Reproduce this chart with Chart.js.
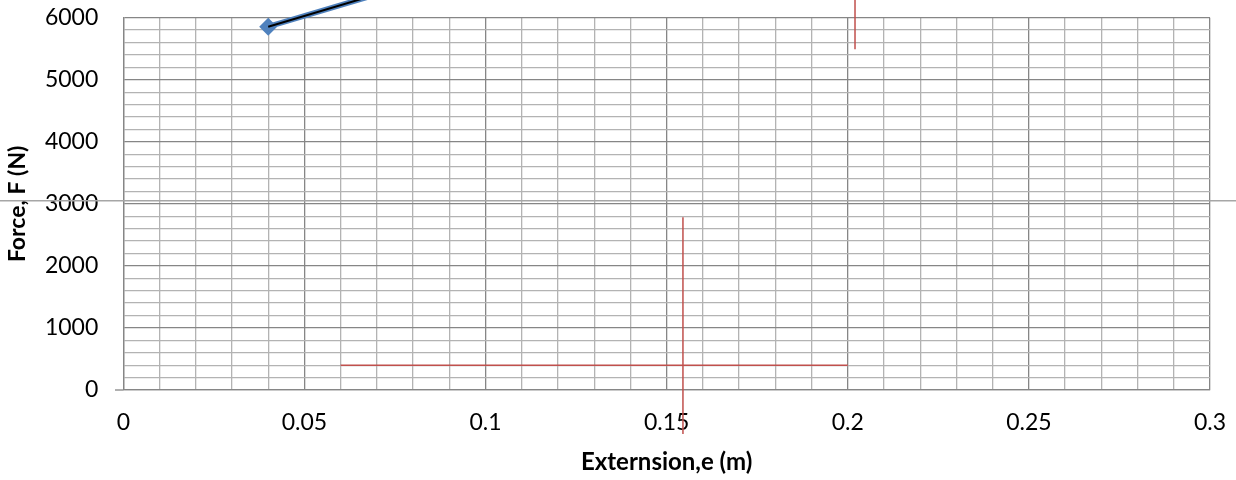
<!DOCTYPE html>
<html>
<head>
<meta charset="utf-8">
<script src="https://cdn.jsdelivr.net/npm/chart.js@4.4.1/dist/chart.umd.min.js"></script>
<style>
    html, body { margin: 0; padding: 0; background: #fff; }
    #wrap { width: 1236px; height: 480px; position: relative; }
</style>
</head>
<body>
<div id="wrap"><canvas id="chart"></canvas></div>
<script>
// measured series (blue diamonds + black line over it)
const extension = [0.04, 0.08];
const force = [5855, 6550];

// red annotation strokes drawn on the chart
const redHx = [0.06, 0.2];
const redHy = [400, 400];
const redV1x = [0.1545, 0.1545];
const redV1y = [2785, -710];
const redV2x = [0.202, 0.202];
const redV2y = [6400, 5490];

// stray grey line across the whole picture, and the stub left of the axis
const greyX = [-0.04, 0.32];
const greyY = [3050, 3050];
const stubX = [-0.0023, 0];
const stubY = [0, 0];

// axes
const xMajor = [0, 0.05, 0.1, 0.15, 0.2, 0.25, 0.3];
const xLabels = ['0', '0.05', '0.1', '0.15', '0.2', '0.25', '0.3'];
const yMajor = [0, 1000, 2000, 3000, 4000, 5000, 6000];
const yLabels = ['0', '1000', '2000', '3000', '4000', '5000', '6000'];
const xMinorStep = 0.01;
const yMinorStep = 200;

const MAJOR = '#868686';
const MINOR = '#b3b3b3';

function toPoints(xs, ys) {
    return xs.map((x, i) => ({ x: x, y: ys[i] }));
}

function isMajor(value, majors) {
    return majors.some(m => Math.abs(m - value) < 1e-9);
}

function labelFor(value, majors, labels) {
    let i = majors.findIndex(m => Math.abs(m - value) < 1e-9);
    return i === -1 ? '' : labels[i];
}

function buildTicks(min, max, step, digits) {
    let ticks = [];
    let n = Math.round((max - min) / step);
    for (let i = 0; i <= n; i++) {
        ticks.push({ value: Number((min + i * step).toFixed(digits)) });
    }
    return ticks;
}

function strokeSet(xs, ys, color, width, order) {
    return {
        data: toPoints(xs, ys),
        showLine: true,
        borderColor: color,
        backgroundColor: color,
        borderWidth: width,
        pointRadius: 0,
        clip: false,
        order: order
    };
}

function drawChart() {
    Chart.defaults.font.family = 'Lato';
    Chart.defaults.color = '#000';

    new Chart(document.getElementById('chart'), {
        type: 'scatter',
        data: {
            datasets: [
                strokeSet(extension, force, '#000000', 2, 0),
                {
                    data: toPoints(extension, force),
                    showLine: true,
                    borderColor: '#4F81BD',
                    backgroundColor: '#4F81BD',
                    borderWidth: 5.5,
                    pointStyle: 'rectRot',
                    pointRadius: 9,
                    pointBorderWidth: 0,
                    clip: false,
                    order: 1
                },
                strokeSet(redHx, redHy, '#C0504D', 1.5, 2),
                strokeSet(redV1x, redV1y, '#C0504D', 1.5, 2),
                strokeSet(redV2x, redV2y, '#C0504D', 1.5, 2),
                strokeSet(greyX, greyY, '#a6a6a6', 1.3, 3),
                strokeSet(stubX, stubY, MAJOR, 1.3, 3)
            ]
        },
        options: {
            responsive: true,
            maintainAspectRatio: false,
            animation: false,
            layout: { padding: { top: 17.7, right: 26, left: 0, bottom: 0 } },
            plugins: {
                legend: { display: false },
                tooltip: { enabled: false }
            },
            scales: {
                x: {
                    type: 'linear',
                    min: 0,
                    max: 0.3,
                    afterBuildTicks: s => { s.ticks = buildTicks(0, 0.3, xMinorStep, 2); },
                    afterFit: s => { s.height = 90; },
                    grid: {
                        drawTicks: true,
                        tickLength: 19,
                        tickColor: 'rgba(0,0,0,0)',
                        lineWidth: 1.3,
                        color: c => isMajor(c.tick.value, xMajor) ? MAJOR : MINOR
                    },
                    border: { color: MAJOR, width: 1.3 },
                    ticks: {
                        autoSkip: false,
                        maxRotation: 0,
                        padding: 0,
                        font: { size: 23 },
                        callback: v => labelFor(v, xMajor, xLabels)
                    },
                    title: {
                        display: true,
                        text: 'Externsion,e (m)',
                        font: { size: 24, weight: 'bold' },
                        padding: { top: 0, bottom: 3 }
                    }
                },
                y: {
                    type: 'linear',
                    min: 0,
                    max: 6000,
                    afterBuildTicks: s => { s.ticks = buildTicks(0, 6000, yMinorStep, 0); },
                    afterFit: s => { s.width = 123.3; },
                    grid: {
                        drawTicks: true,
                        tickLength: 25,
                        tickColor: 'rgba(0,0,0,0)',
                        lineWidth: 1.3,
                        color: c => isMajor(c.tick.value, yMajor) ? MAJOR : MINOR
                    },
                    border: { color: MAJOR, width: 1.3 },
                    ticks: {
                        autoSkip: false,
                        padding: 0,
                        font: { size: 23 },
                        callback: v => labelFor(v, yMajor, yLabels)
                    },
                    title: {
                        display: true,
                        text: 'Force, F (N)',
                        font: { size: 23, weight: 'bold' },
                        padding: { top: 3.5, bottom: 0 }
                    }
                }
            }
        }
    });
}

if (document.fonts && document.fonts.load) {
    Promise.all([
        document.fonts.load('23px Lato'),
        document.fonts.load('bold 24px Lato')
    ]).then(drawChart, drawChart);
} else {
    drawChart();
}
</script>
</body>
</html>
